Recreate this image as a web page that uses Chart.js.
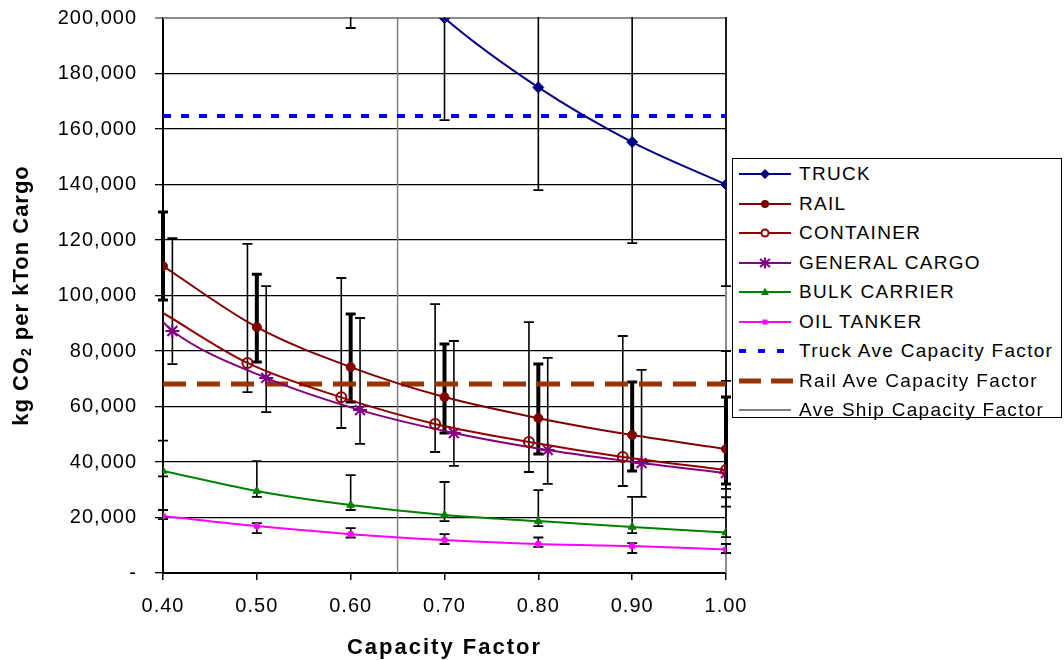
<!DOCTYPE html>
<html>
<head>
<meta charset="utf-8">
<script src="https://cdn.jsdelivr.net/npm/chart.js@4/dist/chart.umd.min.js"></script>
<style>
    html, body { margin: 0; padding: 0; background: #fff; }
    #wrap { position: relative; width: 1064px; height: 660px; }
    #legend {
        position: absolute; left: 732px; top: 158px; width: 328px; height: 258px;
        border: 1.5px solid #000; background: #fff;
        font-family: 'Liberation Sans', Arial, sans-serif; font-size: 19px;
        letter-spacing: 1.3px; color: #000;
    }
    .row { position: absolute; left: 6px; height: 24px; display: flex; align-items: center; white-space: nowrap; }
    .row svg { margin-right: 6px; flex: none; }
</style>
</head>
<body>
<div id="wrap">
    <canvas id="co2Chart" width="1064" height="660"></canvas>
    <div id="legend"></div>
</div>
<script>
// capacity factors and kg CO2 per kTon cargo
const capacityFactors = [0.40, 0.50, 0.60, 0.70, 0.80, 0.90, 1.00];

const truckCO2 = [350000, 280000, 233300, 200000, 175000, 155300, 140000];
const truckLow = [285000, 228000, 196400, 163200, 138000, 118900, 103400];
const truckHigh = [415000, 332000, 277000, 240000, 215000, 206000, 203000];

const railCO2 = [110600, 88600, 74200, 63400, 55800, 49700, 44700];
const railLow = [98400, 76000, 61600, 50450, 42900, 36800, 32100];
const railHigh = [130100, 107700, 93300, 82500, 75300, 68800, 63400];

const containerFactors = [0.40, 0.49, 0.59, 0.69, 0.79, 0.89, 1.00];
const containerCO2 = [93700, 75700, 63300, 53700, 47200, 41800, 37100];
const containerLow = [null, 65200, 52250, 43600, 36400, 31350, 30300];
const containerHigh = [null, 118600, 106300, 96900, 90400, 85400, 80000];

const cargoFactors = [0.40, 0.41, 0.51, 0.61, 0.71, 0.81, 0.91, 1.00];
const cargoCO2 = [90500, 87200, 70300, 58700, 50450, 44300, 39600, 36000];
const cargoLow = [null, 75300, 58000, 46500, 38600, 32100, 27400, 23900];
const cargoHigh = [null, 120700, 103400, 91900, 83600, 77500, 73200, 69200];

const bulkCO2 = [36800, 29550, 24500, 20900, 18700, 16600, 14600];
const bulkLow = [34800, 27400, 22700, 18700, 16900, 14400, 12900];
const bulkHigh = [47700, 40300, 35300, 32800, 29900, 27400, 27300];

const oilCO2 = [20500, 16900, 14000, 11900, 10450, 9700, 8500];
const oilLow = [19400, 14400, 12800, 10450, 9400, 7200, 7200];
const oilHigh = [22700, 18000, 16200, 14000, 12800, 10800, 10450];

const truckAveCO2 = 164700;
const railAveCO2 = 68100;
const shipAveFactor = 0.65;

const seriesNames = ['TRUCK', 'RAIL', 'CONTAINER', 'GENERAL CARGO', 'BULK CARRIER', 'OIL TANKER',
    'Truck Ave Capacity Factor', 'Rail Ave Capacity Factor', 'Ave Ship Capacity Factor'];

const FONT = "'Liberation Sans', Arial, sans-serif";

function points(xs, ys) {
    return xs.map((x, i) => ({ x: x, y: ys[i] }));
}

function markerSizes(xs, r, skipFirst) {
    return xs.map((x, i) => (skipFirst && i === 0) ? 0 : r);
}

const errorBars = [
    { x: capacityFactors, low: truckLow, high: truckHigh, thick: false },
    { x: capacityFactors, low: railLow, high: railHigh, thick: true },
    { x: containerFactors, low: containerLow, high: containerHigh, thick: false },
    { x: cargoFactors, low: cargoLow, high: cargoHigh, thick: false },
    { x: capacityFactors, low: bulkLow, high: bulkHigh, thick: false },
    { x: capacityFactors, low: oilLow, high: oilHigh, thick: false }
];

const errorBarPlugin = {
    id: 'errorBars',
    beforeDraw(chart) {
        chart.ctx.letterSpacing = '1px';
    },
    beforeDatasetsDraw(chart) {
        const { ctx, chartArea, scales } = chart;
        ctx.save();
        // grey plot frame on top and right
        ctx.strokeStyle = '#8c8c8c';
        ctx.lineWidth = 2;
        ctx.beginPath();
        ctx.moveTo(chartArea.left, chartArea.top);
        ctx.lineTo(chartArea.right, chartArea.top);
        ctx.lineTo(chartArea.right, chartArea.bottom);
        ctx.stroke();

        ctx.beginPath();
        ctx.rect(0, chartArea.top - 1, chart.width, chartArea.bottom - chartArea.top + 2);
        ctx.clip();
        ctx.strokeStyle = '#000';
        errorBars.forEach(bar => {
            bar.x.forEach((xv, i) => {
                if (bar.low[i] == null) return;
                const px = scales.x.getPixelForValue(xv);
                const yl = scales.y.getPixelForValue(bar.low[i]);
                const yh = scales.y.getPixelForValue(bar.high[i]);
                ctx.lineWidth = bar.thick ? 4 : 1.6;
                ctx.beginPath();
                ctx.moveTo(px, yl);
                ctx.lineTo(px, yh);
                ctx.stroke();
                ctx.lineWidth = bar.thick ? 3 : 1.8;
                const half = 5;
                ctx.beginPath();
                ctx.moveTo(px - half, yl);
                ctx.lineTo(px + half, yl);
                ctx.moveTo(px - half, yh);
                ctx.lineTo(px + half, yh);
                ctx.stroke();
            });
        });
        ctx.restore();
    },
    afterDraw(chart) {
        const { ctx, chartArea } = chart;
        ctx.save();
        ctx.fillStyle = '#000';
        // y title with subscript
        ctx.translate(22, (chartArea.top + chartArea.bottom) / 2);
        ctx.rotate(-Math.PI / 2);
        ctx.letterSpacing = '1px';
        const big = 'bold 22px ' + FONT;
        const small = 'bold 14px ' + FONT;
        const parts = [['kg CO', big, 0], ['2', small, 5], [' per kTon Cargo', big, 0]];
        let total = 0;
        parts.forEach(p => { ctx.font = p[1]; total += ctx.measureText(p[0]).width; });
        let cx = -total / 2;
        ctx.textBaseline = 'middle';
        parts.forEach(p => {
            ctx.font = p[1];
            ctx.fillText(p[0], cx, p[2]);
            cx += ctx.measureText(p[0]).width;
        });
        ctx.restore();

        ctx.save();
        ctx.fillStyle = '#000';
        ctx.letterSpacing = '2px';
        ctx.font = 'bold 22px ' + FONT;
        ctx.textAlign = 'center';
        ctx.textBaseline = 'alphabetic';
        ctx.fillText('Capacity Factor', (chartArea.left + chartArea.right) / 2, chartArea.bottom + 81);
        ctx.restore();
    }
};

const lineBase = {
    borderWidth: 2,
    cubicInterpolationMode: 'monotone',
    pointBorderWidth: 1
};

const datasets = [
    Object.assign({}, lineBase, {
        label: seriesNames[0], data: points(capacityFactors, truckCO2),
        borderColor: '#000080', backgroundColor: '#000080',
        pointStyle: 'rectRot', pointRadius: 5.5
    }),
    Object.assign({}, lineBase, {
        label: seriesNames[1], data: points(capacityFactors, railCO2),
        borderColor: '#800000', backgroundColor: '#800000',
        pointStyle: 'circle', pointRadius: 4.5
    }),
    Object.assign({}, lineBase, {
        label: seriesNames[2], data: points(containerFactors, containerCO2),
        borderColor: '#900000', backgroundColor: 'rgba(0,0,0,0)',
        pointBackgroundColor: 'rgba(0,0,0,0)', pointBorderWidth: 2,
        pointStyle: 'circle', pointRadius: markerSizes(containerFactors, 5, true)
    }),
    Object.assign({}, lineBase, {
        label: seriesNames[3], data: points(cargoFactors, cargoCO2),
        borderColor: '#800080', backgroundColor: '#800080', pointBorderWidth: 2,
        pointStyle: 'star', pointRadius: markerSizes(cargoFactors, 7, true)
    }),
    Object.assign({}, lineBase, {
        label: seriesNames[4], data: points(capacityFactors, bulkCO2),
        borderColor: '#008000', backgroundColor: '#008000',
        pointStyle: 'triangle', pointRadius: 4.5
    }),
    Object.assign({}, lineBase, {
        label: seriesNames[5], data: points(capacityFactors, oilCO2),
        borderColor: '#ff00ff', backgroundColor: '#ff00ff',
        pointStyle: 'circle', pointRadius: 3
    }),
    {
        label: seriesNames[6],
        data: [{ x: capacityFactors[0], y: truckAveCO2 }, { x: capacityFactors[6], y: truckAveCO2 }],
        borderColor: '#0000ff', borderWidth: 4, borderDash: [8, 10], pointRadius: 0
    },
    {
        label: seriesNames[7],
        data: [{ x: capacityFactors[0], y: railAveCO2 }, { x: capacityFactors[6], y: railAveCO2 }],
        borderColor: '#993300', borderWidth: 5, borderDash: [23, 11], pointRadius: 0
    },
    {
        label: seriesNames[8],
        data: [{ x: shipAveFactor, y: 0 }, { x: shipAveFactor, y: 200000 }],
        borderColor: '#808080', borderWidth: 1.5, pointRadius: 0
    }
];

new Chart(document.getElementById('co2Chart'), {
    type: 'line',
    data: { datasets },
    plugins: [errorBarPlugin],
    options: {
        responsive: false,
        animation: false,
        layout: { padding: { left: 0, right: 338, top: 18, bottom: 0 } },
        plugins: { legend: { display: false }, tooltip: { enabled: false } },
        scales: {
            x: {
                type: 'linear', min: 0.4, max: 1.0,
                afterFit: s => { s.height = 87; },
                grid: { drawOnChartArea: false, drawTicks: true, tickLength: 7, color: '#000', lineWidth: 1.5 },
                border: { display: true, color: '#000', width: 2 },
                ticks: {
                    stepSize: 0.1, padding: 14, color: '#000',
                    font: { family: FONT, size: 20 },
                    callback: v => Number(v).toFixed(2)
                }
            },
            y: {
                min: 0, max: 200000,
                afterFit: s => { s.width = 163; s.paddingTop = 0; s.paddingBottom = 0; },
                grid: {
                    color: c => c.tick && c.tick.value === 200000 ? '#8c8c8c' : '#000',
                    lineWidth: c => c.tick && c.tick.value === 200000 ? 2 : 1.3,
                    tickLength: 8
                },
                border: { display: true, color: '#000', width: 2 },
                ticks: {
                    stepSize: 20000, padding: 18, color: '#000',
                    font: { family: FONT, size: 20 },
                    callback: v => v === 0 ? '-' : v.toLocaleString('en-US')
                }
            }
        }
    }
});

// legend built as html so text stays text
const legendIcons = [
    '<line x1="0" y1="7" x2="52" y2="7" stroke="#000080" stroke-width="2"/><polygon points="26,2 31,7 26,12 21,7" fill="#000080"/>',
    '<line x1="0" y1="7" x2="52" y2="7" stroke="#800000" stroke-width="2"/><circle cx="26" cy="7" r="4" fill="#800000"/>',
    '<line x1="0" y1="7" x2="52" y2="7" stroke="#900000" stroke-width="2"/><circle cx="26" cy="7" r="3.5" fill="#fff" stroke="#900000" stroke-width="2"/>',
    '<line x1="0" y1="7" x2="52" y2="7" stroke="#800080" stroke-width="2"/><path d="M21,3L31,11M21,11L31,3M26,1.5V12.5" stroke="#800080" stroke-width="2"/>',
    '<line x1="0" y1="7" x2="52" y2="7" stroke="#008000" stroke-width="2"/><polygon points="26,2.5 30,10 22,10" fill="#008000"/>',
    '<line x1="0" y1="7" x2="52" y2="7" stroke="#ff00ff" stroke-width="2"/><rect x="23.5" y="4.5" width="5" height="5" fill="#ff00ff"/>',
    '<line x1="0" y1="7" x2="48" y2="7" stroke="#0000ff" stroke-width="4" stroke-dasharray="7,12"/>',
    '<line x1="0" y1="7" x2="54" y2="7" stroke="#993300" stroke-width="5" stroke-dasharray="22,10"/>',
    '<line x1="0" y1="7" x2="52" y2="7" stroke="#808080" stroke-width="2"/>'
];
const legendEl = document.getElementById('legend');
seriesNames.forEach((name, i) => {
    const row = document.createElement('div');
    row.className = 'row';
    row.style.top = (3 + i * 29.5) + 'px';
    row.innerHTML = '<svg width="54" height="14">' + legendIcons[i] + '</svg><span>' + name + '</span>';
    legendEl.appendChild(row);
});
</script>
</body>
</html>
